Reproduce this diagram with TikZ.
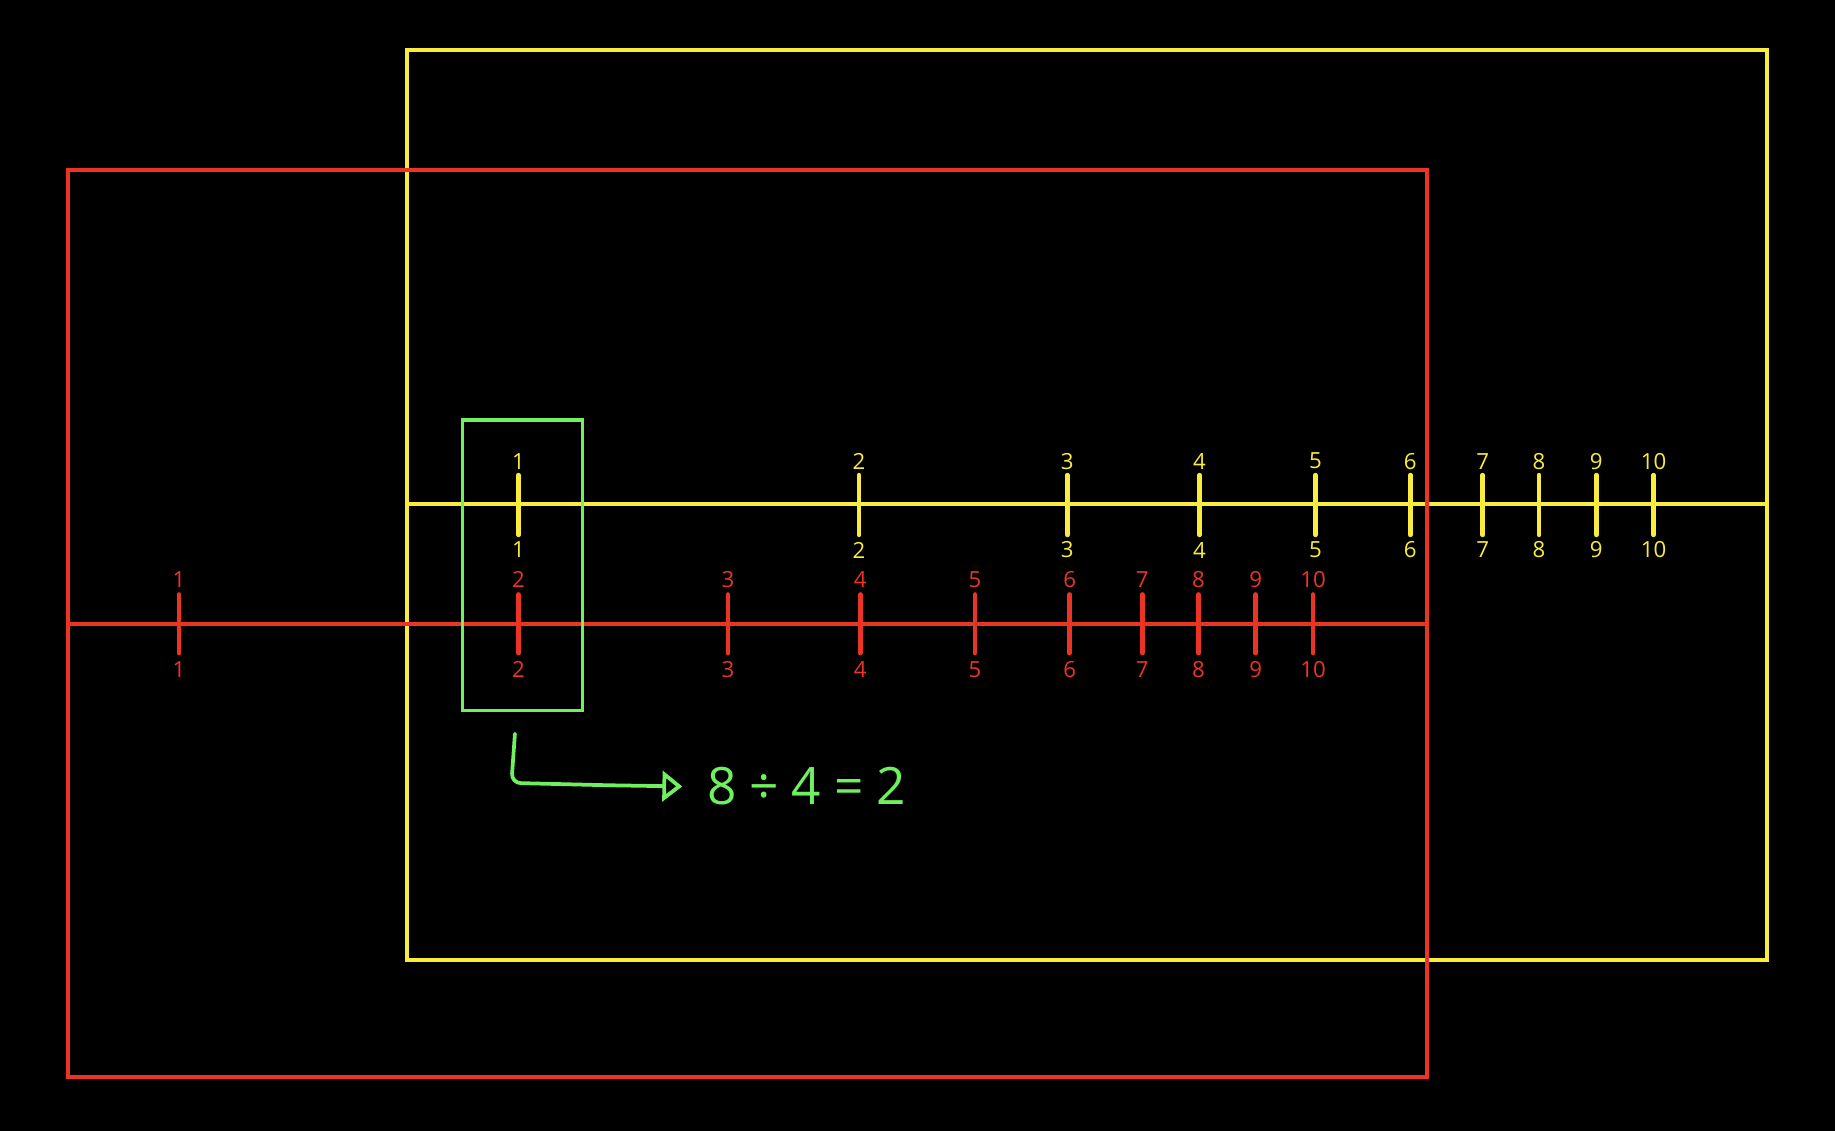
\documentclass[tikz,border=0pt]{standalone}
\usepackage{fontspec}
\setmainfont{Open Sans}
\usetikzlibrary{arrows.meta}
\definecolor{yel}{RGB}{250,236,60}
\definecolor{rd}{RGB}{236,52,36}
\definecolor{grn}{RGB}{110,240,95}
\begin{document}
\begin{tikzpicture}[x=1pt,y=-1pt,
  frame/.style={line width=3.4pt},
  tickline/.style={line width=4pt,line cap=round},
  lab/.style={font=\fontsize{19}{19}\selectfont,inner sep=0pt}]
\fill[black] (0,0) rectangle (1568,966);
\useasboundingbox (0,0) rectangle (1568,966);
% yellow frame and axis
\draw[yel,frame] (348,43) rectangle (1510,820);
\draw[yel,frame] (348,431) coordinate (ya) -- (1510,431) coordinate (yb);
\foreach \n/\x in {1/443,2/734,3/912,4/1025,5/1124,6/1205,7/1267,8/1315,9/1364,10/1413}{
  \draw[yel,tickline] (\x,406) coordinate (yt\n) -- (\x,457) coordinate (yb\n);
  \node[lab,text=yel] (yl\n) at (\x,394) {\n};
  \node[lab,text=yel] (ym\n) at (\x,470) {\n};
}
% red frame and axis
\draw[rd,frame] (58,145) rectangle (1219,920);
\draw[rd,frame] (58,533) coordinate (ra) -- (1219,533) coordinate (rb);
\foreach \n/\x in {1/153,2/443,3/622,4/735,5/833,6/914,7/976,8/1024,9/1073,10/1122}{
  \draw[rd,tickline] (\x,508) coordinate (rt\n) -- (\x,558) coordinate (rbt\n);
  \node[lab,text=rd] (rl\n) at (\x,495) {\n};
  \node[lab,text=rd] (rm\n) at (\x,572) {\n};
}
% green box and arrow
\draw[grn,line width=2.8pt] (395,359) rectangle (498,607);
\node[text=grn,font=\fontsize{44}{44}\selectfont,inner sep=0pt,anchor=west] (eq) at (604,672)
  {8\hspace{11pt}÷\hspace{11pt}4\hspace{11pt}=\hspace{11pt}2};
\coordinate (astart) at (440,627);
\coordinate (aend) at (583,672);
\draw[grn,line width=3.2pt,line cap=round,rounded corners=8pt,
  -{Triangle[open,length=17pt,width=26pt,line width=3.2pt]}]
  (astart) -- (437,669) -- (520,671) -- (aend);
\end{tikzpicture}
\end{document}
